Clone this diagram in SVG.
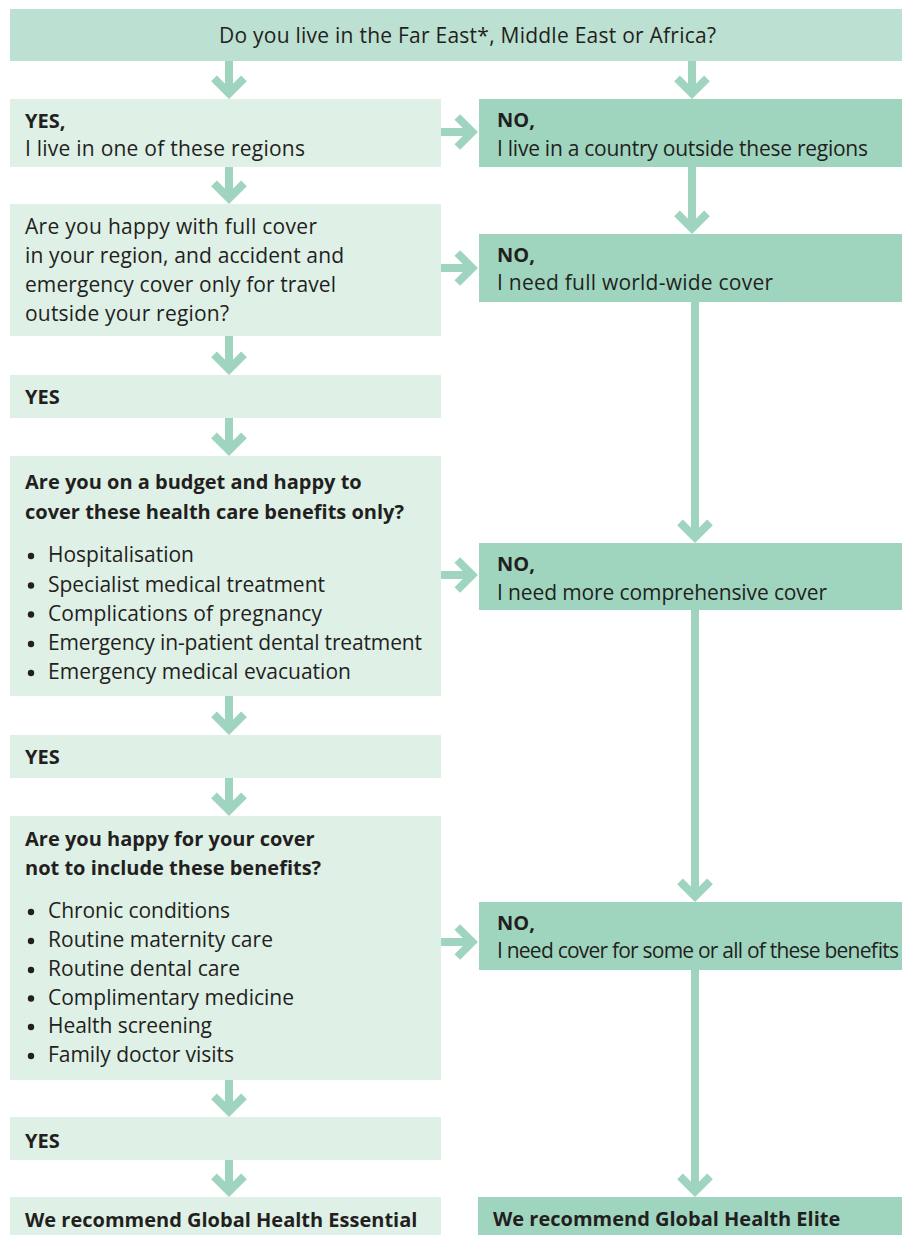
<svg xmlns="http://www.w3.org/2000/svg" width="902" height="1235" viewBox="0 0 902 1235">
<style>
.top{fill:#bce0d1}
.yes{fill:#dff0e7}
.no{fill:#9fd5bf}
text{font-family:"Open Sans","Noto Sans","Liberation Sans",sans-serif;font-size:21px;fill:#231f20}
.b{font-weight:bold;font-size:20px}
.stem{stroke:#9fd5bf;stroke-width:8;fill:none}
.head{stroke:#9fd5bf;stroke-width:8;fill:none;stroke-linejoin:miter;stroke-linecap:butt}
.dot{fill:#231f20}
</style>
<rect width="902" height="1235" fill="#ffffff"/>
<g id="connectors">
<line class="stem" x1="229" y1="61" x2="229" y2="93"/><polyline class="head" points="214,78.3 229,93.3 244,78.3"/>
<line class="stem" x1="229" y1="167" x2="229" y2="198"/><polyline class="head" points="214,183.3 229,198.3 244,183.3"/>
<line class="stem" x1="229" y1="336" x2="229" y2="369"/><polyline class="head" points="214,354.3 229,369.3 244,354.3"/>
<line class="stem" x1="229" y1="418" x2="229" y2="450"/><polyline class="head" points="214,435.3 229,450.3 244,435.3"/>
<line class="stem" x1="229" y1="696" x2="229" y2="729"/><polyline class="head" points="214,714.3 229,729.3 244,714.3"/>
<line class="stem" x1="229" y1="778" x2="229" y2="810"/><polyline class="head" points="214,795.3 229,810.3 244,795.3"/>
<line class="stem" x1="229" y1="1080" x2="229" y2="1111"/><polyline class="head" points="214,1096.3 229,1111.3 244,1096.3"/>
<line class="stem" x1="229" y1="1160" x2="229" y2="1191"/><polyline class="head" points="214,1176.3 229,1191.3 244,1176.3"/>
<line class="stem" x1="692" y1="61" x2="692" y2="93"/><polyline class="head" points="677,78.3 692,93.3 707,78.3"/>
<line class="stem" x1="692" y1="167" x2="692" y2="228"/><polyline class="head" points="677,213.3 692,228.3 707,213.3"/>
<line class="stem" x1="695" y1="302" x2="695" y2="537"/><polyline class="head" points="680,522.3 695,537.3 710,522.3"/>
<line class="stem" x1="695" y1="610" x2="695" y2="896"/><polyline class="head" points="680,881.3 695,896.3 710,881.3"/>
<line class="stem" x1="695" y1="970" x2="695" y2="1191"/><polyline class="head" points="680,1176.3 695,1191.3 710,1176.3"/>
<line class="stem" x1="441" y1="132" x2="472" y2="132"/><polyline class="head" points="457.3,117 472.3,132 457.3,147"/>
<line class="stem" x1="441" y1="268" x2="472" y2="268"/><polyline class="head" points="457.3,253 472.3,268 457.3,283"/>
<line class="stem" x1="441" y1="575" x2="472" y2="575"/><polyline class="head" points="457.3,560 472.3,575 457.3,590"/>
<line class="stem" x1="441" y1="942" x2="472" y2="942"/><polyline class="head" points="457.3,927 472.3,942 457.3,957"/>
</g>
<g id="n-top"><rect class="top" x="10" y="9" width="892" height="52"/><text x="219" y="43" textLength="497">Do you live in the Far East*, Middle East or Africa?</text></g>
<g id="n-yes1"><rect class="yes" x="10" y="99" width="431" height="68"/><text class="b" x="25" y="128">YES,</text><text x="25" y="156" textLength="280">I live in one of these regions</text></g>
<g id="n-no1"><rect class="no" x="479" y="99" width="423" height="68"/><text class="b" x="497" y="127">NO,</text><text x="497" y="156" textLength="371">I live in a country outside these regions</text></g>
<g id="n-q2"><rect class="yes" x="10" y="204" width="431" height="132"/><text x="25" y="234" textLength="292">Are you happy with full cover</text><text x="25" y="263" textLength="319">in your region, and accident and</text><text x="25" y="292" textLength="311">emergency cover only for travel</text><text x="25" y="321" textLength="204">outside your region?</text></g>
<g id="n-no2"><rect class="no" x="479" y="234" width="423" height="68"/><text class="b" x="497" y="262">NO,</text><text x="497" y="290" textLength="276">I need full world-wide cover</text></g>
<g id="n-yes2"><rect class="yes" x="10" y="375" width="431" height="43"/><text class="b" x="25" y="404">YES</text></g>
<g id="n-q3"><rect class="yes" x="10" y="456" width="431" height="240"/><text class="b" x="25" y="489">Are you on a budget and happy to</text><text class="b" x="25" y="519">cover these health care benefits only?</text>
<circle class="dot" cx="31" cy="556" r="3.2"/><text x="48" y="562" textLength="146">Hospitalisation</text>
<circle class="dot" cx="31" cy="585.5" r="3.2"/><text x="48" y="591.5" textLength="277">Specialist medical treatment</text>
<circle class="dot" cx="31" cy="614.5" r="3.2"/><text x="48" y="620.5" textLength="274">Complications of pregnancy</text>
<circle class="dot" cx="31" cy="644" r="3.2"/><text x="48" y="650" textLength="374">Emergency in-patient dental treatment</text>
<circle class="dot" cx="31" cy="673" r="3.2"/><text x="48" y="679" textLength="303">Emergency medical evacuation</text></g>
<g id="n-no3"><rect class="no" x="479" y="543" width="423" height="67"/><text class="b" x="497" y="571">NO,</text><text x="497" y="600" textLength="330">I need more comprehensive cover</text></g>
<g id="n-yes3"><rect class="yes" x="10" y="735" width="431" height="43"/><text class="b" x="25" y="764">YES</text></g>
<g id="n-q4"><rect class="yes" x="10" y="816" width="431" height="264"/><text class="b" x="25" y="846">Are you happy for your cover</text><text class="b" x="25" y="875">not to include these benefits?</text>
<circle class="dot" cx="31" cy="912" r="3.2"/><text x="48" y="918" textLength="182">Chronic conditions</text>
<circle class="dot" cx="31" cy="941" r="3.2"/><text x="48" y="947" textLength="225">Routine maternity care</text>
<circle class="dot" cx="31" cy="970" r="3.2"/><text x="48" y="976" textLength="192">Routine dental care</text>
<circle class="dot" cx="31" cy="998.5" r="3.2"/><text x="48" y="1004.5" textLength="246">Complimentary medicine</text>
<circle class="dot" cx="31" cy="1027" r="3.2"/><text x="48" y="1033" textLength="164">Health screening</text>
<circle class="dot" cx="31" cy="1056" r="3.2"/><text x="48" y="1062" textLength="186">Family doctor visits</text></g>
<g id="n-no4"><rect class="no" x="479" y="902" width="423" height="68"/><text class="b" x="497" y="930">NO,</text><text x="497" y="958" textLength="402">I need cover for some or all of these benefits</text></g>
<g id="n-yes4"><rect class="yes" x="10" y="1117" width="431" height="43"/><text class="b" x="25" y="1148">YES</text></g>
<g id="n-essential"><rect class="yes" x="10" y="1197" width="431" height="38"/><text class="b" x="25" y="1227">We recommend Global Health Essential</text></g>
<g id="n-elite"><rect class="no" x="478" y="1197" width="424" height="38"/><text class="b" x="493" y="1226">We recommend Global Health Elite</text></g>
</svg>
